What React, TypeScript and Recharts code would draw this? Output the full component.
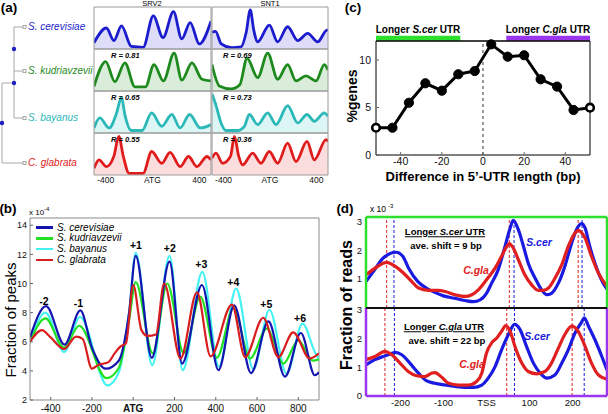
import React from 'react';
import { ComposedChart, Line, Area, XAxis, YAxis, ReferenceLine, ReferenceArea, ReferenceDot } from 'recharts';

const FONT = '"Liberation Sans", Arial, Helvetica, sans-serif';

// ---------- (a) nucleosome maps at two loci ----------
const species = ['S. cerevisiae', 'S. kudriavzevii', 'S. bayanus', 'C. glabrata'];
const loci = ['SRV2', 'SNT1'];
const srv2R = ['', 'R = 0.81', 'R = 0.65', 'R = 0.55'];
const snt1R = ['', 'R = 0.69', 'R = 0.73', 'R = 0.36'];
const locusTicks = [-400, 0, 400];

const srv2CerX = [-500, -394, -330, -265, -180, -80, 7, 90, 179, 250, 322, 400, 500];
const srv2CerY = [0.15, 0.5, 0.2, 0.55, 0.06, 0.04, 0.79, 0.27, 0.89, 0.24, 0.63, 0.12, 0.66];
const srv2KudX = [-500, -400, -322, -236, -150, -60, 13, 93, 185, 251, 337, 423, 500];
const srv2KudY = [0.11, 0.7, 0.22, 0.67, 0.1, 0.1, 0.63, 0.24, 0.9, 0.26, 0.67, 0.28, 0.24];
const srv2BayX = [-500, -451, -370, -310, -265, -235, -180, -90, -7, 79, 165, 236, 317, 408, 500];
const srv2BayY = [0.12, 0.36, 0.12, 0.45, 0.85, 0.42, 0.06, 0.06, 0.48, 0.16, 0.44, 0.12, 0.44, 0.12, 0.2];
const srv2GlaX = [-500, -457, -394, -330, -288, -250, -200, -80, -7, 79, 150, 236, 308, 380, 466, 500];
const srv2GlaY = [0.16, 0.36, 0.2, 0.45, 0.92, 0.45, 0.04, 0.04, 0.56, 0.28, 0.54, 0.2, 0.44, 0.2, 0.44, 0.36];

const snt1CerX = [-500, -470, -420, -330, -250, -205, -170, -140, -106, -6, 66, 152, 239, 325, 411, 491, 500];
const snt1CerY = [0.4, 0.42, 0.12, 0.03, 0.05, 0.4, 0.93, 0.45, 0.17, 0.57, 0.17, 0.53, 0.2, 0.37, 0.17, 0.45, 0.44];
const snt1KudX = [-500, -437, -336, -260, -198, -106, -20, 66, 152, 224, 310, 397, 468, 500];
const snt1KudY = [0.63, 0.12, 0.05, 0.15, 0.78, 0.32, 0.9, 0.28, 0.63, 0.24, 0.36, 0.24, 0.63, 0.5];
const snt1BayX = [-500, -470, -422, -379, -279, -221, -178, -106, -20, 52, 152, 239, 319, 382, 468, 500];
const snt1BayY = [0.93, 0.7, 0.24, 0.06, 0.06, 0.16, 0.44, 0.2, 0.48, 0.2, 0.65, 0.24, 0.44, 0.28, 0.48, 0.4];
const snt1GlaX = [-500, -466, -408, -340, -307, -270, -236, -149, -78, -6, 66, 152, 224, 319, 382, 483, 500];
const snt1GlaY = [0.4, 0.52, 0.28, 0.45, 0.92, 0.45, 0.24, 0.52, 0.28, 0.56, 0.28, 0.76, 0.32, 0.8, 0.36, 0.84, 0.8];

// ---------- (b) fraction of peaks around ATG ----------
const bTicksX = [-400, -200, 0, 200, 400, 600, 800];
const bTicksY = [2, 4, 6, 8, 10, 12, 14];
const bCerX = [-500, -422, -333, -256, -200, -133, -70, -20, 12, 90, 176, 237, 333, 413, 489, 571, 655, 735, 812, 880, 900];
const bCerY = [6.3, 8.45, 5.8, 8.15, 5.6, 4.15, 4.7, 8.0, 11.9, 4.9, 11.5, 4.5, 9.9, 4.05, 8.5, 3.85, 7.4, 3.6, 6.6, 3.7, 3.9];
const bKudX = [-500, -425, -335, -262, -130, -70, -20, 12, 95, 165, 245, 325, 405, 486, 566, 647, 727, 800, 870, 900];
const bKudY = [6.0, 7.6, 5.6, 7.1, 3.5, 4.2, 7.5, 10.1, 5.2, 10.0, 5.2, 9.1, 4.9, 8.3, 4.85, 6.9, 4.5, 6.1, 4.7, 4.8];
const bBayX = [-500, -425, -335, -258, -125, -70, -20, 12, 92, 176, 240, 335, 415, 499, 582, 660, 743, 820, 880, 900];
const bBayY = [6.0, 8.0, 5.3, 7.7, 3.0, 3.9, 8.0, 12.1, 4.4, 11.9, 4.05, 10.8, 4.3, 9.65, 4.1, 8.2, 3.8, 7.25, 5.3, 4.8];
const bGlaX = [-500, -442, -400, -335, -277, -245, -200, -170, -120, -90, -60, -35, 0, 40, 70, 110, 150, 229, 309, 375, 478, 542, 630, 703, 775, 855, 900];
const bGlaY = [6.0, 6.8, 6.3, 5.5, 6.35, 6.2, 4.15, 4.4, 4.6, 5.2, 5.7, 5.9, 9.9, 6.8, 6.4, 6.5, 10.0, 4.85, 9.4, 5.0, 8.55, 4.95, 7.65, 4.95, 6.65, 4.85, 5.2];
const peakNames = ['-2', '-1', '+1', '+2', '+3', '+4', '+5', '+6'];
const peakX = [-432, -265, 13, 177, 330, 485, 645, 808];
const peakY = [8.8, 8.66, 12.6, 12.4, 11.3, 10.1, 8.6, 7.6];

// ---------- (c) %genes vs 5'-UTR length difference ----------
const utrDiff = [-52, -44, -36, -28, -20, -12, -4, 4, 12, 20, 28, 36, 44, 52];
const pctGenes = [2.87, 2.87, 5.5, 7.55, 6.77, 8.5, 8.84, 11.65, 10.35, 10.5, 7.97, 7.2, 4.74, 4.98];

// ---------- (d) reads around TSS ----------
const dTicksX = [-200, -100, 0, 100, 200];
const dTopCerX = [-280, -260, -240, -210, -195, -180, -160, -140, -120, -100, -75, -50, -30, -15, 0, 12, 27, 43, 55, 62, 74, 86, 97, 113, 128, 140, 151, 167, 182, 198, 209, 221, 229, 240, 252, 267, 280];
const dTopCerY = [0.92, 1.32, 1.73, 1.93, 1.8, 1.35, 0.92, 0.69, 0.54, 0.42, 0.34, 0.26, 0.22, 0.28, 0.51, 0.86, 1.32, 2.13, 2.77, 3.03, 2.71, 2.13, 1.55, 1.03, 0.63, 0.46, 0.51, 0.86, 1.44, 2.25, 2.71, 2.92, 2.77, 2.13, 1.55, 0.98, 0.65];
const dTopGlaX = [-280, -259, -240, -232, -212, -193, -174, -158, -135, -112, -96, -73, -50, -34, -19, 0, 20, 35, 47, 53, 62, 74, 89, 105, 120, 132, 144, 159, 175, 190, 206, 213, 229, 244, 260, 280];
const dTopGlaY = [1.15, 1.38, 1.55, 1.58, 1.44, 1.21, 0.92, 0.69, 0.61, 0.61, 0.57, 0.46, 0.4, 0.46, 0.63, 0.98, 1.38, 1.79, 2.13, 2.23, 2.08, 1.67, 1.15, 0.8, 0.61, 0.61, 0.69, 1.03, 1.5, 2.13, 2.6, 2.69, 2.42, 1.79, 1.21, 0.75];
const dBotCerX = [-280, -259, -240, -228, -212, -197, -178, -158, -140, -120, -96, -73, -50, -30, -11, 4, 20, 35, 51, 65, 78, 93, 109, 125, 140, 159, 175, 190, 206, 221, 227, 237, 252, 268, 280];
const dBotCerY = [1.08, 1.26, 1.37, 1.43, 1.51, 1.43, 1.14, 0.79, 0.53, 0.44, 0.38, 0.33, 0.3, 0.3, 0.38, 0.62, 1.02, 1.6, 2.13, 2.48, 2.3, 1.72, 1.14, 0.79, 0.62, 0.73, 1.14, 1.6, 2.19, 2.56, 2.71, 2.42, 1.95, 1.37, 0.9];
const dBotGlaX = [-280, -259, -236, -220, -201, -182, -162, -143, -128, -120, -104, -88, -65, -42, -23, -11, 0, 12, 24, 35, 45, 55, 66, 82, 97, 117, 136, 151, 167, 182, 198, 213, 229, 244, 260, 280];
const dBotGlaY = [1.26, 1.37, 1.55, 1.43, 1.14, 0.85, 0.7, 0.67, 0.79, 0.81, 0.65, 0.44, 0.38, 0.38, 0.5, 0.79, 1.49, 1.84, 2.01, 2.24, 2.44, 2.24, 1.72, 1.14, 0.85, 0.77, 0.85, 1.14, 1.66, 2.13, 2.42, 2.24, 1.72, 1.14, 0.73, 0.58];
const dTopGlaPeaks = [-232, 53, 213];
const dTopCerPeaks = [-215, 64, 222];
const dBotGlaPeaks = [-236, 47, 199];
const dBotCerPeaks = [-214, 65, 227];

const SP_COLORS = ['#1c1ccf', '#1e8a1e', '#2bb8b8', '#e01b1b'];
const SP_FILLS = ['#b4b4f4', '#acd6ac', '#b2e8e8', '#f8b4b4'];
const B_COLORS = ['#1414b0', '#22e022', '#45f2f2', '#d81e1e'];
const GREEN = '#2ee02e';
const PURPLE = '#9a36f0';
const D_BLUE = '#1a1ae0';
const D_RED = '#e02020';

const pts = (xs: number[], ys: number[]) => xs.map((x, i) => ({ x, y: ys[i] }));

const aData = [
  [pts(srv2CerX, srv2CerY), pts(snt1CerX, snt1CerY)],
  [pts(srv2KudX, srv2KudY), pts(snt1KudX, snt1KudY)],
  [pts(srv2BayX, srv2BayY), pts(snt1BayX, snt1BayY)],
  [pts(srv2GlaX, srv2GlaY), pts(snt1GlaX, snt1GlaY)],
];
const bData = [pts(bCerX, bCerY), pts(bKudX, bKudY), pts(bBayX, bBayY), pts(bGlaX, bGlaY)];
const cData = pts(utrDiff, pctGenes);

function Txt({ x, y, size = 10, weight = 400, italic = false, color = '#000', anchor = 'middle', rotate = 0, underline = false, children }: any) {
  const tx = anchor === 'start' ? '0' : '-50%';
  return (
    <div
      style={{
        position: 'absolute', left: x, top: y,
        transform: `translate(${tx}, -50%)${rotate ? ` rotate(${rotate}deg)` : ''}`,
        fontSize: size, fontWeight: weight, fontStyle: italic ? 'italic' : 'normal',
        color, whiteSpace: 'nowrap', lineHeight: 1, textDecoration: underline ? 'underline' : 'none',
      }}
    >
      {children}
    </div>
  );
}

// tick with an optional inward tick mark
function xTick(fs: number, gap: number, len: number, zero?: string, boldZero = false) {
  return (p: any) => {
    const v = p.payload.value;
    const isZero = v === 0 && !!zero;
    const ay = p.y - gap;
    return (
      <g>
        {len > 0 && <line x1={p.x} x2={p.x} y1={ay} y2={ay - len} stroke="#666" />}
        <text x={p.x} y={p.y} dy="0.71em" textAnchor="middle" fontSize={fs} fontFamily={FONT}
          fontWeight={isZero && boldZero ? 700 : 400} fill="#111">
          {isZero ? zero : v}
        </text>
      </g>
    );
  };
}

function yTick(fs: number, gap: number, len: number) {
  return (p: any) => {
    const ax = p.x + gap;
    return (
      <g>
        {len > 0 && <line x1={ax} x2={ax + len} y1={p.y} y2={p.y} stroke="#666" />}
        <text x={p.x} y={p.y} dy="0.355em" textAnchor="end" fontSize={fs} fontFamily={FONT} fill="#111">
          {p.payload.value}
        </text>
      </g>
    );
  };
}

const aXTick = xTick(8.5, 2, 0, 'ATG');
const bXTick = xTick(10, 5, 3, 'ATG', true);
const bYTick = yTick(9, 3, 3);
const cXTick = xTick(10.5, 3, 3);
const cYTick = yTick(10.5, 5, 3);
const dXTick = xTick(9.5, 3, 0, 'TSS');
const dYTick = yTick(9.5, 4, 0);

function LocusCell({ row, col }: { row: number; col: number }) {
  const left = [94, 212][col];
  const w = [117, 116][col];
  const top = 7 + row * 42;
  const last = row === 3;
  return (
    <div style={{ position: 'absolute', left: left - 2, top: top - 2 }}>
      <ComposedChart width={w + 4} height={last ? 60 : 46} margin={{ top: 2, right: 2, left: 2, bottom: 2 }}>
        <XAxis type="number" dataKey="x" domain={[-500, 500]} ticks={locusTicks} interval={0} hide={!last}
          height={14} tickSize={0} tickMargin={2} axisLine={false} tick={aXTick} allowDataOverflow />
        <YAxis type="number" domain={[0, 1]} hide allowDataOverflow />
        <Area data={aData[row][col]} dataKey="y" type="monotone" stroke={SP_COLORS[row]} strokeWidth={2.8}
          fill={SP_FILLS[row]} fillOpacity={0.45} dot={false} activeDot={false} isAnimationActive={false} />
        <ReferenceArea x1={-500} x2={500} y1={0} y2={1} fill="none" fillOpacity={0} stroke="#9a9a9a" strokeWidth={1} />
      </ComposedChart>
    </div>
  );
}

const cDot = (p: any) => {
  const end = p.index === 0 || p.index === utrDiff.length - 1;
  return (
    <circle key={`d${p.index}`} cx={p.cx} cy={p.cy} r={end ? 3.8 : 4.6}
      fill={end ? '#fff' : '#000'} stroke="#000" strokeWidth={end ? 2.6 : 1} />
  );
};

export default function App() {
  const treeLeaves = [27, 71, 118, 163];
  return (
    <div style={{ position: 'absolute', left: 0, top: 0, width: 608, height: 414, background: '#fff', overflow: 'hidden', fontFamily: FONT, color: '#000' }}>
      {/* ---------------- (a) ---------------- */}
      <Txt x={9} y={8} size={13.5} weight={700}>(a)</Txt>
      <svg width={94} height={180} style={{ position: 'absolute', left: 0, top: 0 }}>
        <g stroke="#a8a8a8" strokeWidth={1} fill="none">
          <line x1={2} y1={83} x2={2} y2={163} />
          <line x1={2} y1={83} x2={14} y2={83} />
          <line x1={2} y1={163} x2={23} y2={163} />
          <line x1={14} y1={27} x2={14} y2={118} />
          <line x1={14} y1={27} x2={23} y2={27} />
          <line x1={14} y1={71} x2={23} y2={71} />
          <line x1={14} y1={118} x2={23} y2={118} />
          {treeLeaves.map((y) => <rect key={y} x={23} y={y - 1.5} width={3} height={3} />)}
        </g>
        <g fill="#2020c0">
          <circle cx={2} cy={123} r={2.2} />
          <circle cx={14} cy={49} r={2.2} />
          <circle cx={14} cy={83} r={2.2} />
        </g>
      </svg>
      {species.map((s, i) => (
        <Txt key={s} x={28} y={treeLeaves[i]} anchor="start" italic size={10} color={SP_COLORS[i]}>{s}</Txt>
      ))}
      <Txt x={152} y={4} size={7.5}>{loci[0]}</Txt>
      <Txt x={270} y={4} size={7.5}>{loci[1]}</Txt>
      {[0, 1, 2, 3].map((r) => [0, 1].map((c) => <LocusCell key={`${r}-${c}`} row={r} col={c} />))}
      {[1, 2, 3].map((r) => (
        <React.Fragment key={`r${r}`}>
          <Txt x={111} y={14 + r * 42} anchor="start" size={7.5} weight={700} italic>{srv2R[r]}</Txt>
          <Txt x={223} y={14 + r * 42} anchor="start" size={7.5} weight={700} italic>{snt1R[r]}</Txt>
        </React.Fragment>
      ))}

      {/* ---------------- (b) ---------------- */}
      <Txt x={8} y={209} size={13.5} weight={700}>(b)</Txt>
      <Txt x={29} y={213} anchor="start" size={8}>x 10</Txt>
      <Txt x={44} y={209} anchor="start" size={6}>-4</Txt>
      <Txt x={10} y={320} size={15} rotate={-90}>Fraction of peaks</Txt>
      <div style={{ position: 'absolute', left: 0, top: 200 }}>
        <ComposedChart width={330} height={214} margin={{ top: 18, right: 11, left: 0, bottom: 0 }}>
          <XAxis type="number" dataKey="x" domain={[-500, 900]} ticks={bTicksX} interval={0} height={14}
            tickSize={0} tickMargin={5} axisLine={{ stroke: '#8a8a8a' }} tick={bXTick} allowDataOverflow />
          <YAxis type="number" domain={[2, 14.5]} ticks={bTicksY} interval={0} width={30}
            tickSize={0} tickMargin={3} axisLine={{ stroke: '#8a8a8a' }} tick={bYTick} allowDataOverflow />
          <ReferenceLine y={14.5} stroke="#8a8a8a" />
          <ReferenceLine x={900} stroke="#8a8a8a" />
          {[2, 1, 0, 3].map((i) => (
            <Line key={i} data={bData[i]} dataKey="y" type="monotone" stroke={B_COLORS[i]} strokeWidth={2.2}
              dot={false} activeDot={false} isAnimationActive={false} />
          ))}
          {peakNames.map((n, i) => (
            <ReferenceDot key={n} x={peakX[i]} y={peakY[i]} r={0} stroke="none" fill="none"
              label={{ value: n, position: 'center', fill: '#000', fontSize: 10.5, fontWeight: 700, fontFamily: FONT }} />
          ))}
        </ComposedChart>
      </div>
      {species.map((s, i) => (
        <React.Fragment key={`lg${s}`}>
          <div style={{ position: 'absolute', left: 36, top: 227.5 + i * 10.8 - 1.25, width: 17, height: 2.5, background: B_COLORS[i] }} />
          <Txt x={57} y={227.5 + i * 10.8} anchor="start" italic size={10}>{s}</Txt>
        </React.Fragment>
      ))}

      {/* ---------------- (c) ---------------- */}
      <Txt x={353} y={8} size={13.5} weight={700}>(c)</Txt>
      <Txt x={352} y={96} size={14} weight={700} rotate={-90}>%genes</Txt>
      <Txt x={418} y={30} size={10} weight={700}>Longer <i>S.cer</i> UTR</Txt>
      <Txt x={548} y={30} size={10} weight={700}>Longer <i>C.gla</i> UTR</Txt>
      <div style={{ position: 'absolute', left: 330, top: 0 }}>
        <ComposedChart width={278} height={200} margin={{ top: 41, right: 18, left: 0, bottom: 0 }}>
          <XAxis type="number" dataKey="x" domain={[-52, 52]} ticks={[-40, -20, 0, 20, 40]} interval={0} height={45}
            tickSize={0} tickMargin={3} axisLine={{ stroke: '#000' }} tick={cXTick} />
          <YAxis type="number" domain={[0, 12]} ticks={[0, 5, 10]} interval={0} width={46}
            tickSize={0} tickMargin={5} axisLine={{ stroke: '#000' }} tick={cYTick} />
          <ReferenceLine y={12} stroke="#000" strokeWidth={1.5} />
          <ReferenceLine x={52} stroke="#000" />
          <ReferenceLine x={0} stroke="#333" strokeDasharray="3 3" />
          <ReferenceArea x1={-52} x2={-11} y1={12.03} y2={12.55} fill={GREEN} fillOpacity={1} stroke="none" ifOverflow="visible" />
          <ReferenceArea x1={11.3} x2={52} y1={12.03} y2={12.55} fill={PURPLE} fillOpacity={1} stroke="none" ifOverflow="visible" />
          <Line data={cData} dataKey="y" type="linear" stroke="#000" strokeWidth={3} dot={cDot} activeDot={false} isAnimationActive={false} />
        </ComposedChart>
      </div>
      <Txt x={483} y={176} size={13} weight={700}>Difference in 5’-UTR length (bp)</Txt>

      {/* ---------------- (d) ---------------- */}
      <Txt x={345} y={209} size={13.5} weight={700}>(d)</Txt>
      <Txt x={370} y={209} anchor="start" size={8.5}>x 10</Txt>
      <Txt x={388} y={206} anchor="start" size={6}>-3</Txt>
      <Txt x={347} y={305} size={16} weight={700} rotate={-90}>Fraction of reads</Txt>
      <div style={{ position: 'absolute', left: 330, top: 203 }}>
        <ComposedChart width={278} height={106} margin={{ top: 14, right: 1, left: 0, bottom: 1 }}>
          <XAxis type="number" dataKey="x" domain={[-280, 280]} hide allowDataOverflow />
          <YAxis type="number" domain={[0, 3.15]} ticks={[1, 2, 3]} interval={0} width={36}
            tickSize={0} tickMargin={4} axisLine={false} tick={dYTick} allowDataOverflow />
          {dTopGlaPeaks.map((x) => <ReferenceLine key={`tg${x}`} x={x} stroke={D_RED} strokeDasharray="3 2" />)}
          {dTopCerPeaks.map((x) => <ReferenceLine key={`tc${x}`} x={x} stroke={D_BLUE} strokeDasharray="3 2" />)}
          <Line data={pts(dTopCerX, dTopCerY)} dataKey="y" type="monotone" stroke={D_BLUE} strokeWidth={3.2} dot={false} activeDot={false} isAnimationActive={false} />
          <Line data={pts(dTopGlaX, dTopGlaY)} dataKey="y" type="monotone" stroke={D_RED} strokeWidth={3.2} dot={false} activeDot={false} isAnimationActive={false} />
          <ReferenceLine x={-280} stroke={GREEN} strokeWidth={2.5} />
          <ReferenceLine x={280} stroke={GREEN} strokeWidth={2.5} />
          <ReferenceLine y={3.15} stroke={GREEN} strokeWidth={2.5} />
          <ReferenceLine y={0} stroke="#000" strokeWidth={1.5} />
        </ComposedChart>
      </div>
      <div style={{ position: 'absolute', left: 330, top: 305 }}>
        <ComposedChart width={278} height={109} margin={{ top: 3, right: 1, left: 0, bottom: 0 }}>
          <XAxis type="number" dataKey="x" domain={[-280, 280]} ticks={dTicksX} interval={0} height={18}
            tickSize={0} tickMargin={3} axisLine={false} tick={dXTick} allowDataOverflow />
          <YAxis type="number" domain={[0, 3.05]} ticks={[0, 1, 2, 3]} interval={0} width={36}
            tickSize={0} tickMargin={4} axisLine={false} tick={dYTick} allowDataOverflow />
          {dBotGlaPeaks.map((x) => <ReferenceLine key={`bg${x}`} x={x} stroke={D_RED} strokeDasharray="3 2" />)}
          {dBotCerPeaks.map((x) => <ReferenceLine key={`bc${x}`} x={x} stroke={D_BLUE} strokeDasharray="3 2" />)}
          <Line data={pts(dBotCerX, dBotCerY)} dataKey="y" type="monotone" stroke={D_BLUE} strokeWidth={3.2} dot={false} activeDot={false} isAnimationActive={false} />
          <Line data={pts(dBotGlaX, dBotGlaY)} dataKey="y" type="monotone" stroke={D_RED} strokeWidth={3.2} dot={false} activeDot={false} isAnimationActive={false} />
          <ReferenceLine x={-280} stroke={PURPLE} strokeWidth={2.5} />
          <ReferenceLine x={280} stroke={PURPLE} strokeWidth={2.5} />
          <ReferenceLine y={0} stroke={PURPLE} strokeWidth={2.5} />
          <ReferenceLine y={3.05} stroke="#000" strokeWidth={1.5} />
        </ComposedChart>
      </div>
      <Txt x={445} y={232} size={9.5} weight={700} underline>Longer <i>S.cer</i> UTR</Txt>
      <Txt x={446} y={246} size={9.5} weight={700}>ave. shift = 9 bp</Txt>
      <Txt x={539} y={242} size={10.5} weight={700} italic color={D_BLUE}>S.cer</Txt>
      <Txt x={476} y={269.5} size={10.5} weight={700} italic color={D_RED}>C.gla</Txt>
      <Txt x={444} y={327} size={9.5} weight={700} underline>Longer <i>C.gla</i> UTR</Txt>
      <Txt x={447} y={340.5} size={9.5} weight={700}>ave. shift = 22 bp</Txt>
      <Txt x={537} y={336} size={10.5} weight={700} italic color={D_BLUE}>S.cer</Txt>
      <Txt x={472} y={363.5} size={10.5} weight={700} italic color={D_RED}>C.gla</Txt>
    </div>
  );
}
